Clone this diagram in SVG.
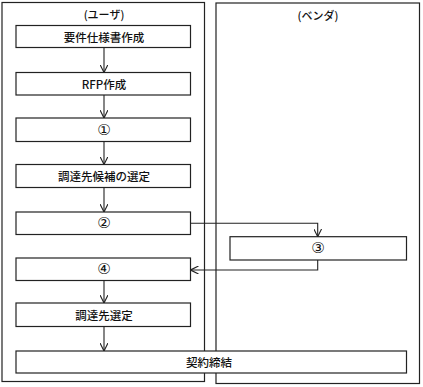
<svg xmlns="http://www.w3.org/2000/svg" width="423" height="387" viewBox="0 0 423 387">
<style>
.lane{fill:none;stroke:#222;stroke-width:1.2}
.box{fill:#fff;stroke:#222;stroke-width:1.2}
.t{font-family:"Noto Sans CJK JP","Noto Sans",sans-serif;font-size:11.5px;font-weight:500;fill:#111;text-anchor:middle;dominant-baseline:central}
.n{font-family:"DejaVu Sans","Noto Sans CJK JP",sans-serif;font-size:15px;fill:#111;text-anchor:middle;dominant-baseline:central}
.h{font-family:"Noto Sans CJK JP","Noto Sans",sans-serif;font-size:11px;font-weight:500;fill:#111;text-anchor:middle;dominant-baseline:central}
.c{fill:none;stroke:#222;stroke-width:1.1;marker-end:url(#ah)}
</style>
<defs>
<marker id="ah" viewBox="0 0 10 10" refX="10" refY="5" markerWidth="8" markerHeight="8" markerUnits="userSpaceOnUse" orient="auto">
<path d="M0,0 L10,5 L0,10" fill="none" stroke="#222" stroke-width="1.4"/>
</marker>
</defs>
<rect width="423" height="387" fill="#fff"/>
<g id="lane-user"><rect class="lane" x="2" y="2.5" width="202.5" height="379"/><text class="h" x="104" y="14">(ユーザ)</text></g>
<g id="lane-vendor"><rect class="lane" x="216" y="3" width="203.5" height="380.5"/><text class="h" x="318" y="15">(ベンダ)</text></g>
<g id="n1"><rect class="box" x="16" y="25.5" width="174.5" height="22"/><text class="t" x="104" y="36.5">要件仕様書作成</text></g>
<g id="n2"><rect class="box" x="16" y="72.5" width="174.5" height="22.5"/><text class="t" x="104" y="84">RFP作成</text></g>
<g id="n3"><rect class="box" x="16" y="118" width="174.5" height="23.5"/><text class="n" x="104" y="130">①</text></g>
<g id="n4"><rect class="box" x="16" y="164.5" width="174.5" height="23"/><text class="t" x="104" y="176">調達先候補の選定</text></g>
<g id="n5"><rect class="box" x="16" y="212" width="174.5" height="22.5"/><text class="n" x="104" y="223">②</text></g>
<g id="n6"><rect class="box" x="230" y="236.7" width="176.5" height="23.3"/><text class="n" x="318" y="248">③</text></g>
<g id="n7"><rect class="box" x="16" y="258" width="174.5" height="22.5"/><text class="n" x="104" y="269">④</text></g>
<g id="n8"><rect class="box" x="16" y="303" width="174.5" height="23.5"/><text class="t" x="104" y="315">調達先選定</text></g>
<g id="n9"><rect class="box" x="16" y="351" width="390.5" height="22"/><text class="t" x="209" y="362">契約締結</text></g>
<g id="connectors">
<line class="c" x1="104" y1="47.5" x2="104" y2="72.5"/>
<line class="c" x1="104" y1="95" x2="104" y2="118"/>
<line class="c" x1="104" y1="141.5" x2="104" y2="164.5"/>
<line class="c" x1="104" y1="187.5" x2="104" y2="212"/>
<polyline class="c" points="190.5,223.3 317.7,223.3 317.7,236.7"/>
<polyline class="c" points="317.7,260 317.7,270 190.5,270"/>
<line class="c" x1="104" y1="280.5" x2="104" y2="303"/>
<line class="c" x1="104" y1="326.5" x2="104" y2="351"/>
</g>
</svg>
